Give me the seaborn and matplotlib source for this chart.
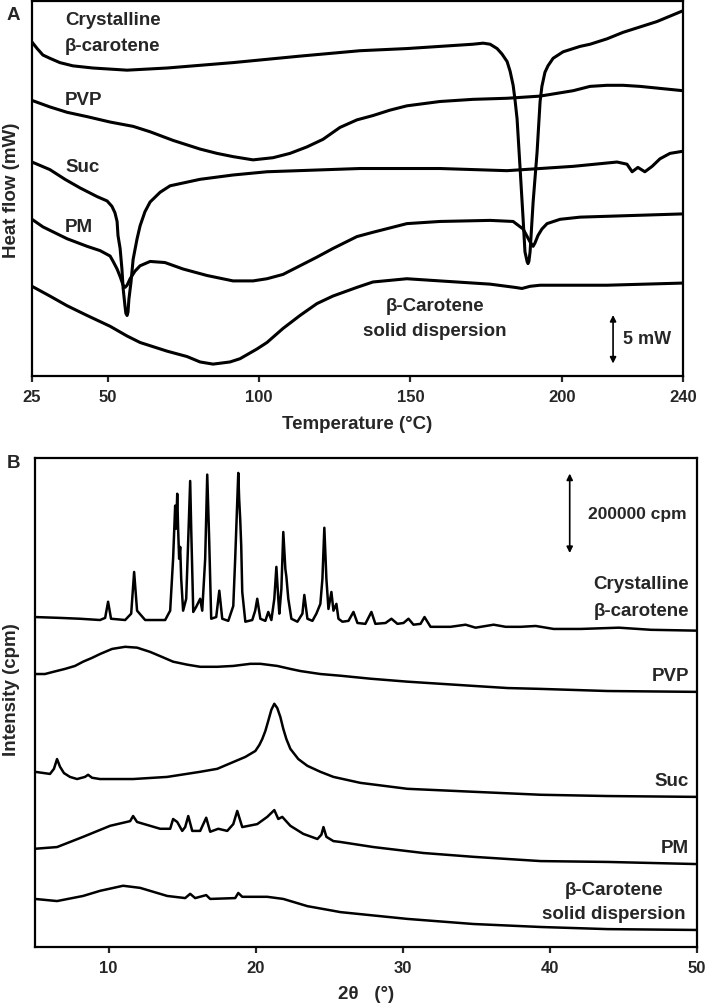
import matplotlib
matplotlib.use("Agg")
import matplotlib.pyplot as plt
import seaborn as sns

# ---- Panel A: DSC (temperature in °C, heat flow in mW, curves offset) ----
dsc_crys_T = [25.0, 26.7, 28.6, 30.9, 34.2, 38.5, 45.1, 56.4, 69.6, 91.4, 113.5, 133.3, 148.8, 159.7,
              170.6, 174.0, 176.3, 178.6, 180.2, 181.9, 182.9, 183.9, 184.5, 185.2, 186.2, 187.2, 187.8,
              188.5, 188.8, 189.1, 189.5, 190.5, 191.8, 192.8, 193.4, 194.4, 195.4, 197.1, 200.4, 206.0,
              209.3, 214.9, 220.2, 225.8, 231.4, 240.0]
dsc_crys_mW = [30.9, 30.3, 29.7, 29.4, 29.0, 28.7, 28.5, 28.3, 28.5, 29.0, 29.6, 30.1, 30.3, 30.5,
               30.7, 30.8, 30.7, 30.3, 29.8, 29.1, 28.2, 26.9, 25.6, 23.8, 19.2, 14.5, 11.5,
               10.6, 10.4, 10.6, 11.5, 16.1, 20.7, 25.4, 26.8, 28.1, 28.7, 29.4, 30.0, 30.5,
               30.7, 31.2, 31.8, 32.3, 32.8, 33.8]

dsc_pvp_T = [25.0, 30.9, 36.6, 43.2, 50.8, 58.4, 64.0, 71.6, 80.5, 86.1, 91.4, 98.0, 104.6, 110.2,
             115.8, 121.1, 126.7, 132.3, 137.6, 143.2, 148.8, 159.7, 170.6, 181.9, 192.8, 203.7,
             209.3, 214.9, 220.2, 225.8, 240.0]
dsc_pvp_mW = [25.5, 24.9, 24.4, 24.0, 23.5, 23.1, 22.6, 21.8, 21.0, 20.6, 20.3, 20.0, 20.2, 20.6,
              21.2, 21.9, 23.0, 23.7, 24.1, 24.6, 25.0, 25.4, 25.6, 25.7, 25.9, 26.4,
              26.8, 26.9, 26.9, 26.8, 26.4]

dsc_suc_T = [25.0, 30.9, 35.9, 40.9, 46.5, 49.8, 51.4, 52.4, 53.1, 53.4, 54.1, 54.7, 55.1, 55.7, 56.0,
             56.4, 56.7, 57.0, 57.7, 58.4, 59.7, 60.7, 62.3, 64.0, 67.3, 70.6, 80.5, 91.4, 102.6,
             133.3, 159.7, 181.9, 203.7, 218.2, 221.5, 223.2, 225.1, 227.4, 229.8, 232.4, 235.7, 240.0]
dsc_suc_mW = [19.8, 19.1, 18.2, 17.4, 16.6, 16.2, 15.7, 15.1, 14.3, 13.0, 11.8, 9.9, 8.1, 6.5, 5.8,
              5.6, 5.9, 7.1, 8.7, 10.8, 12.7, 13.9, 15.2, 16.1, 17.0, 17.6, 18.2, 18.6, 18.9,
              19.2, 19.2, 19.0, 19.4, 19.8, 19.6, 18.9, 19.3, 18.9, 19.4, 20.1, 20.6, 20.8]

dsc_pm_T = [25.0, 28.6, 36.6, 43.2, 47.5, 50.8, 51.8, 53.1, 54.1, 55.1, 55.7, 56.4, 57.4, 59.0, 60.7,
            64.0, 68.9, 74.9, 82.8, 91.4, 98.0, 102.6, 107.9, 113.5, 119.1, 124.4, 132.3, 137.6,
            148.8, 159.7, 176.3, 183.9, 187.2, 189.5, 190.5, 191.1, 192.1, 193.4, 195.1, 199.4,
            206.0, 240.0]
dsc_pm_mW = [14.5, 13.8, 12.7, 12.0, 11.6, 11.1, 10.6, 9.9, 9.2, 8.4, 8.2, 8.4, 9.0, 9.7, 10.2,
             10.6, 10.5, 9.9, 9.3, 8.8, 8.8, 9.0, 9.4, 10.2, 11.0, 11.8, 12.9, 13.3,
             14.1, 14.3, 14.4, 14.3, 13.6, 12.4, 12.0, 12.3, 13.0, 13.6, 14.1, 14.5,
             14.7, 15.0]

dsc_sd_T = [25.0, 30.9, 36.6, 43.2, 50.8, 56.4, 60.7, 69.6, 76.2, 80.5, 84.8, 90.4, 93.7, 99.3, 102.6,
            107.9, 113.5, 119.1, 124.4, 132.3, 137.6, 148.8, 159.7, 176.3, 184.5, 186.8, 189.5,
            192.8, 214.9, 240.0]
dsc_sd_mW = [8.3, 7.4, 6.5, 5.6, 4.6, 3.7, 3.1, 2.3, 1.8, 1.3, 1.1, 1.3, 1.6, 2.5, 3.1,
             4.4, 5.6, 6.7, 7.4, 8.2, 8.7, 9.0, 8.8, 8.5, 8.2, 8.1, 8.3,
             8.4, 8.4, 8.6]

# ---- Panel B: XRD (2theta in degrees, intensity in kcpm, curves offset) ----
xrd_crys_2t = [5.00, 6.70, 8.06, 9.42, 9.77, 9.97, 10.17, 11.13, 11.54, 11.74, 11.94, 12.49, 13.85, 14.19,
               14.39, 14.53, 14.60, 14.67, 14.73, 14.80, 14.87, 14.94, 15.07, 15.28, 15.42, 15.55, 15.62,
               15.76, 15.96, 16.23, 16.37, 16.57, 16.71, 16.84, 16.98, 17.32, 17.53, 17.73, 18.14, 18.48,
               18.61, 18.82, 18.88, 18.95, 19.02, 19.09, 19.30, 19.77, 19.97, 20.11, 20.32, 20.66, 20.86,
               21.07, 21.27, 21.41, 21.54, 21.61, 21.75, 21.88, 22.02, 22.09, 22.22, 22.43, 22.84, 23.18,
               23.31, 23.52, 23.86, 24.13, 24.40, 24.54, 24.67, 24.81, 24.95, 25.15, 25.29, 25.49, 25.63,
               25.90, 26.31, 26.65, 26.92, 27.46, 27.87, 28.14, 28.83, 29.23, 29.64, 30.05, 30.39, 30.73,
               31.21, 31.48, 31.89, 33.25, 34.27, 34.95, 36.18, 37.00, 38.02, 39.04, 40.26, 42.10, 44.69,
               46.87, 50.00]
xrd_crys_I = [776, 774, 772, 769, 774, 812, 772, 769, 784, 882, 791, 769, 769, 791,
              913, 1038, 984, 1066, 984, 913, 941, 866, 791, 819, 960, 1096, 984,
              788, 800, 819, 791, 913, 1111, 960, 772, 776, 838, 772, 767, 802,
              913, 1115, 1054, 1007, 944, 835, 765, 769, 791, 819, 772, 767, 788,
              769, 819, 894, 819, 784, 842, 976, 889, 871, 819, 772, 765, 784,
              828, 772, 767, 784, 807, 866, 986, 866, 795, 835, 791, 807, 772,
              765, 767, 788, 762, 760, 788, 760, 762, 772, 760, 762, 772, 758,
              760, 776, 753, 753, 758, 751, 758, 753, 753, 755, 748, 748, 751,
              746, 744]

xrd_pvp_2t = [5.00, 5.68, 6.23, 7.04, 7.72, 8.27, 8.88, 9.42, 10.24, 11.13, 11.94, 12.83, 13.65, 14.39,
              15.35, 16.23, 17.39, 18.48, 19.64, 20.32, 21.47, 22.36, 23.04, 24.40, 25.76, 27.80,
              30.32, 32.57, 34.82, 37.13, 39.38, 43.94, 50.00]
xrd_pvp_I = [642, 642, 647, 654, 661, 671, 680, 689, 701, 706, 704, 694, 682, 671,
             664, 659, 659, 661, 666, 666, 661, 654, 649, 642, 638, 631,
             624, 619, 614, 609, 607, 602, 600]

xrd_suc_2t = [5.00, 6.02, 6.29, 6.50, 6.70, 6.97, 7.38, 7.86, 8.40, 8.61, 8.88, 9.42, 11.67, 13.99,
              16.23, 17.39, 18.48, 19.30, 19.64, 19.98, 20.25, 20.45, 20.66, 20.86, 21.07, 21.27, 21.47,
              21.68, 21.88, 22.09, 22.36, 22.90, 23.52, 24.40, 25.29, 27.12, 30.32, 34.82, 39.38, 43.94,
              50.00]
xrd_suc_I = [412, 407, 419, 442, 424, 409, 400, 395, 400, 405, 398, 395, 395, 400,
             412, 419, 435, 447, 454, 461, 475, 489, 508, 532, 558, 572, 562,
             541, 513, 489, 466, 442, 426, 412, 400, 386, 372, 365, 358, 355,
             353]

xrd_pm_2t = [5.00, 6.50, 8.27, 10.11, 11.47, 11.67, 11.94, 13.51, 14.19, 14.39, 14.67, 15.01, 15.21,
             15.42, 15.69, 16.23, 16.64, 16.91, 17.46, 18.07, 18.48, 18.75, 19.09, 20.11, 20.79, 21.27,
             21.54, 21.81, 22.36, 23.24, 24.20, 24.47, 24.61, 24.81, 25.29, 25.76, 28.01, 31.41, 34.82,
             39.38, 43.94, 50.00]
xrd_pm_I = [231, 235, 259, 285, 296, 308, 294, 278, 278, 301, 294, 273, 282,
            308, 273, 273, 304, 271, 278, 273, 289, 320, 282, 289, 306, 322,
            301, 306, 285, 266, 254, 264, 282, 259, 249, 247, 235, 221, 212,
            202, 200, 195]

xrd_sd_2t = [5.00, 6.50, 8.27, 9.42, 10.99, 12.15, 13.99, 15.21, 15.55, 15.89, 16.64, 16.91, 18.61,
             18.82, 19.09, 20.79, 21.88, 23.52, 25.29, 25.76, 30.32, 34.82, 39.38, 43.94, 50.00]
xrd_sd_I = [113, 108, 120, 132, 144, 139, 120, 115, 125, 115, 122, 113, 115,
            127, 118, 118, 113, 96, 85, 82, 66, 54, 47, 42, 40]

dsc_ticks = [25, 50, 100, 150, 200, 240]
xrd_ticks = [10, 20, 30, 40, 50]

sns.set_style("ticks")
plt.rcParams["font.family"] = ["Liberation Sans", "DejaVu Sans"]
plt.rcParams["font.weight"] = "bold"

fig = plt.figure(figsize=(7.08, 10.04), dpi=100)
axA = fig.add_axes([0.0452, 0.6245, 0.9195, 0.3735])
axB = fig.add_axes([0.0494, 0.0558, 0.9350, 0.4870])

lwA = 2.2
for T, hf in [(dsc_crys_T, dsc_crys_mW), (dsc_pvp_T, dsc_pvp_mW), (dsc_suc_T, dsc_suc_mW),
              (dsc_pm_T, dsc_pm_mW), (dsc_sd_T, dsc_sd_mW)]:
    sns.lineplot(x=T, y=hf, ax=axA, color="black", lw=lwA, sort=False, estimator=None)

lwB = 1.8
for tt, inten in [(xrd_crys_2t, xrd_crys_I), (xrd_pvp_2t, xrd_pvp_I), (xrd_suc_2t, xrd_suc_I),
                  (xrd_pm_2t, xrd_pm_I), (xrd_sd_2t, xrd_sd_I)]:
    sns.lineplot(x=tt, y=inten, ax=axB, color="black", lw=lwB, sort=False, estimator=None)

for ax in (axA, axB):
    for s in ax.spines.values():
        s.set_linewidth(1.6)
        s.set_color("black")
    ax.set_yticks([])
    ax.tick_params(axis="x", direction="out", length=4.5, width=1.6, pad=5, labelsize=12)

axA.set_xlim(25, 240)
axA.set_ylim(0, 34.7)
axA.set_xticks(dsc_ticks)
axA.set_xticklabels([str(t) for t in dsc_ticks], fontweight="bold")
axA.set_xlabel("Temperature (°C)", fontsize=13.5, fontweight="bold", labelpad=8)
axA.set_ylabel("")

axB.set_xlim(5, 50)
axB.set_ylim(0, 1150)
axB.set_xticks(xrd_ticks)
axB.set_xticklabels([str(t) for t in xrd_ticks], fontweight="bold")
axB.set_xlabel("2θ   (°)", fontsize=13.5, fontweight="bold", labelpad=7)
axB.set_ylabel("")

fig.text(12 / 708, 1 - 190 / 1004, "Heat flow (mW)", rotation=90, ha="center", va="center",
         fontsize=13.5, fontweight="bold")
fig.text(12 / 708, 1 - 690 / 1004, "Intensity (cpm)", rotation=90, ha="center", va="center",
         fontsize=13.5, fontweight="bold")
fig.text(13 / 708, 1 - 15 / 1004, "A", ha="center", va="center", fontsize=13.5, fontweight="bold")
fig.text(13 / 708, 1 - 463 / 1004, "B", ha="center", va="center", fontsize=13.5, fontweight="bold")

fsz = 13.5
# panel A labels
axA.text(35.9, 33.0, "Crystalline", ha="left", va="center", fontsize=fsz, fontweight="bold")
axA.text(35.9, 30.6, "β-carotene", ha="left", va="center", fontsize=fsz, fontweight="bold")
axA.text(35.9, 25.6, "PVP", ha="left", va="center", fontsize=fsz, fontweight="bold")
axA.text(35.9, 19.4, "Suc", ha="left", va="center", fontsize=fsz, fontweight="bold")
axA.text(35.9, 13.8, "PM", ha="left", va="center", fontsize=fsz, fontweight="bold")
axA.text(158.1, 6.5, "β-Carotene", ha="center", va="center", fontsize=fsz, fontweight="bold")
axA.text(158.1, 4.2, "solid dispersion", ha="center", va="center", fontsize=fsz, fontweight="bold")
axA.annotate("", xy=(216.9, 0.9), xytext=(216.9, 5.9),
             arrowprops=dict(arrowstyle="<|-|>", color="black", lw=1.2, mutation_scale=9))
axA.text(220.2, 3.5, "5 mW", ha="left", va="center", fontsize=13, fontweight="bold")

# panel B labels
axB.text(49.45, 854, "Crystalline", ha="right", va="center", fontsize=fsz, fontweight="bold")
axB.text(49.45, 791, "β-carotene", ha="right", va="center", fontsize=fsz, fontweight="bold")
axB.text(49.45, 638, "PVP", ha="right", va="center", fontsize=fsz, fontweight="bold")
axB.text(49.45, 391, "Suc", ha="right", va="center", fontsize=fsz, fontweight="bold")
axB.text(49.45, 233, "PM", ha="right", va="center", fontsize=fsz, fontweight="bold")
axB.text(44.35, 136, "β-Carotene", ha="center", va="center", fontsize=fsz, fontweight="bold")
axB.text(44.35, 78, "solid dispersion", ha="center", va="center", fontsize=fsz, fontweight="bold")
axB.annotate("", xy=(41.35, 920), xytext=(41.35, 1120),
             arrowprops=dict(arrowstyle="<|-|>", color="black", lw=1.2, mutation_scale=9))
axB.text(42.58, 1019, "200000 cpm", ha="left", va="center", fontsize=12.5, fontweight="bold")

fig.savefig("out.png", dpi=100)
